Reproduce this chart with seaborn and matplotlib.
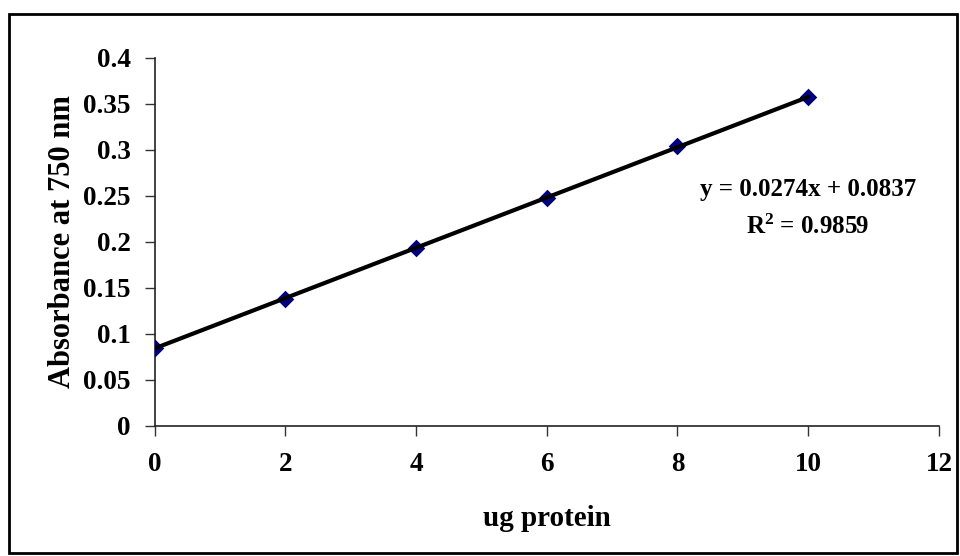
import matplotlib
matplotlib.use("Agg")
import matplotlib.pyplot as plt
import numpy as np
import pandas as pd
import seaborn as sns
from matplotlib.patches import Rectangle

# standard curve values
protein_ug = [0, 2, 4, 6, 8, 10]
absorbance = [0.085, 0.138, 0.193, 0.248, 0.304, 0.357]
x_ticks = [0, 2, 4, 6, 8, 10, 12]
y_ticks = [0, 0.05, 0.1, 0.15, 0.2, 0.25, 0.3, 0.35, 0.4]
y_tick_labels = ["0", "0.05", "0.1", "0.15", "0.2", "0.25", "0.3", "0.35", "0.4"]
equation_text = "y = 0.0274x + 0.0837"
r2_text = "R$^2$ = 0.9859"

sns.set_theme(style="white")
plt.rcParams["font.family"] = ["Liberation Serif", "DejaVu Serif"]
plt.rcParams["font.weight"] = "bold"
plt.rcParams["text.color"] = "black"
plt.rcParams["axes.labelcolor"] = "black"
plt.rcParams["xtick.color"] = "black"
plt.rcParams["ytick.color"] = "black"
plt.rcParams["mathtext.fontset"] = "custom"
plt.rcParams["mathtext.rm"] = "Liberation Serif:bold"
plt.rcParams["mathtext.default"] = "rm"

df = pd.DataFrame({"protein": protein_ug, "absorbance": absorbance})

fig = plt.figure(figsize=(9.6, 5.56), dpi=100)
ax = fig.add_axes([0.161, 0.234, 0.817, 0.662])

sns.regplot(
    data=df, x="protein", y="absorbance", ax=ax, ci=None,
    marker="D",
    scatter_kws=dict(s=80, color="#000080", alpha=1, zorder=3, linewidths=0),
    line_kws=dict(color="black", lw=3, zorder=4),
)

ax.set_xlim(0, 12)
ax.set_ylim(0, 0.4)
ax.set_xticks(x_ticks)
ax.set_xticklabels([str(t) for t in x_ticks])
ax.set_yticks(y_ticks)
ax.set_yticklabels(y_tick_labels)
ax.tick_params(axis="both", direction="out", length=7, width=1, color="#333333",
               labelsize=19.5, labelcolor="black", bottom=True, left=True)
ax.tick_params(axis="x", pad=12)
ax.tick_params(axis="y", pad=10)
for lab in ax.get_xticklabels() + ax.get_yticklabels():
    lab.set_fontweight("bold")

for side in ["top", "right"]:
    ax.spines[side].set_visible(False)
for side in ["left", "bottom"]:
    ax.spines[side].set_color("#222222")
    ax.spines[side].set_linewidth(1.2)

ax.set_xlabel("ug protein", fontsize=21, fontweight="bold", labelpad=20, color="black")
ax.set_ylabel("Absorbance at 750 nm", fontsize=22, fontweight="bold", labelpad=5, color="black")

ax.text(0.833, 0.642, equation_text, transform=ax.transAxes, ha="center", va="center",
        fontsize=18, fontweight="bold", color="black")
ax.text(0.833, 0.542, r2_text, transform=ax.transAxes, ha="center", va="center",
        fontsize=18, fontweight="bold", color="black")

# outer chart border
fig.patches.append(Rectangle((9 / 960, 3 / 556), 948 / 960, 539 / 556,
                             transform=fig.transFigure, fill=False,
                             edgecolor="black", linewidth=2))

fig.savefig("out.png", dpi=100)
